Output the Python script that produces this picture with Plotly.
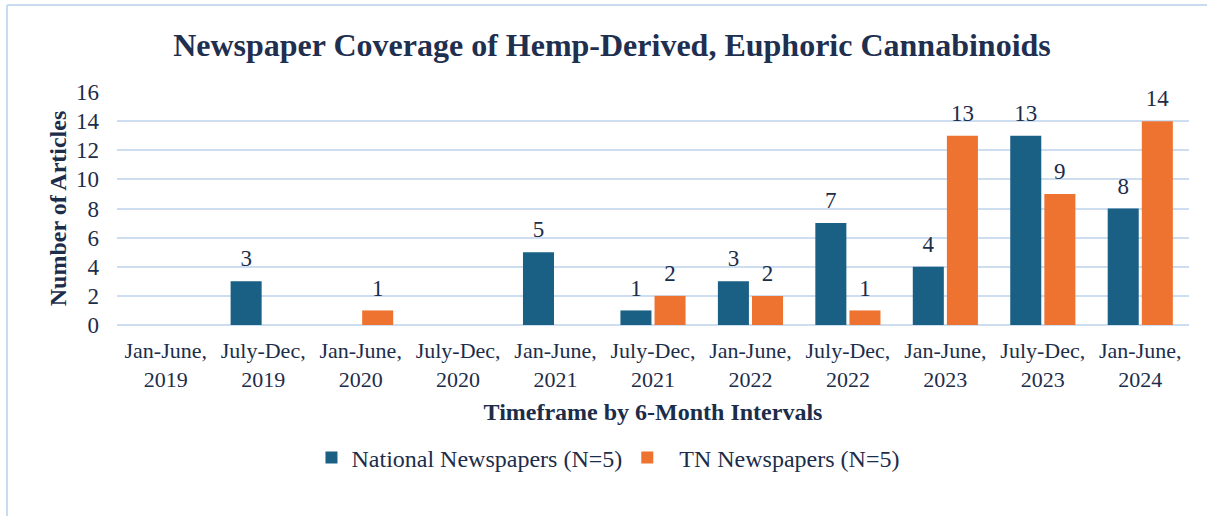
import plotly.graph_objects as go

categories = ["Jan-June,<br>2019", "July-Dec,<br>2019", "Jan-June,<br>2020", "July-Dec,<br>2020",
              "Jan-June,<br>2021", "July-Dec,<br>2021", "Jan-June,<br>2022", "July-Dec,<br>2022",
              "Jan-June,<br>2023", "July-Dec,<br>2023", "Jan-June,<br>2024"]
national = [0, 3, 0, 0, 5, 1, 3, 7, 4, 13, 8]
tn = [0, 0, 1, 0, 0, 2, 2, 1, 13, 9, 14]
y_ticks = [0, 2, 4, 6, 8, 10, 12, 14, 16]

FONT = "Liberation Serif, Times New Roman, serif"
NAVY = "#1c2d4a"

def labels(vals):
    return [str(v) if v else "" for v in vals]

fig = go.Figure()
fig.add_trace(go.Bar(x=categories, y=national, name="National Newspapers (N=5)",
                     marker=dict(color="#1a6085", line=dict(width=0))))
fig.add_trace(go.Bar(x=categories, y=tn, name="\u00a0\u00a0TN Newspapers (N=5)",
                     marker=dict(color="#ee7330", line=dict(width=0))))
# value labels, grouped like the bars
for vals in (national, tn):
    fig.add_trace(go.Scatter(x=categories, y=vals, mode="markers+text", text=labels(vals),
                             textposition="top center", showlegend=False, cliponaxis=False,
                             marker=dict(size=13, opacity=0),
                             textfont=dict(family=FONT, size=23, color=NAVY)))

fig.update_layout(
    width=1207, height=516,
    margin=dict(l=117, r=18, t=92, b=191),
    paper_bgcolor="white", plot_bgcolor="white",
    barmode="group", bargap=0.30, bargroupgap=0.09,
    scattermode="group", scattergap=0.30,
    hovermode=False,
    font=dict(family=FONT, color=NAVY),
    title=dict(text="<b>Newspaper Coverage of Hemp-Derived, Euphoric Cannabinoids</b>",
               x=0.507, xanchor="center", y=0.913, yanchor="middle",
               font=dict(family=FONT, size=32, color="#1f2f4f")),
    xaxis=dict(tickfont=dict(family=FONT, size=22, color=NAVY), showgrid=False,
               showline=False, ticks="", ticklabelstandoff=10,
               title=dict(text="<b>Timeframe by 6-Month Intervals</b>",
                          font=dict(family=FONT, size=24, color=NAVY), standoff=12)),
    yaxis=dict(range=[0, 16], tickvals=y_ticks, tickfont=dict(family=FONT, size=23, color=NAVY),
               showgrid=True, gridcolor="#cddef1", gridwidth=2, zeroline=True,
               zerolinecolor="#cddef1", zerolinewidth=2, ticks="", ticklabelstandoff=17,
               title=dict(text="<b>Number of Articles</b>",
                          font=dict(family=FONT, size=24, color=NAVY), standoff=2)),
    legend=dict(orientation="h", x=0.458, xanchor="center", y=-0.57, yanchor="middle",
                font=dict(family=FONT, size=24, color=NAVY), itemwidth=30,
                traceorder="normal"),
    showlegend=True,
)

fig.add_shape(type="line", xref="paper", yref="paper", x0=-0.1026, x1=1.02, y0=1.373, y1=1.373,
              line=dict(color="#c9dbef", width=2))
fig.add_shape(type="line", xref="paper", yref="paper", x0=-0.1026, x1=-0.1026, y0=1.373, y1=-0.82,
              line=dict(color="#c9dbef", width=2))

fig.write_html("out.html", config={"displayModeBar": False},
               post_script="document.body.style.margin='0';")
